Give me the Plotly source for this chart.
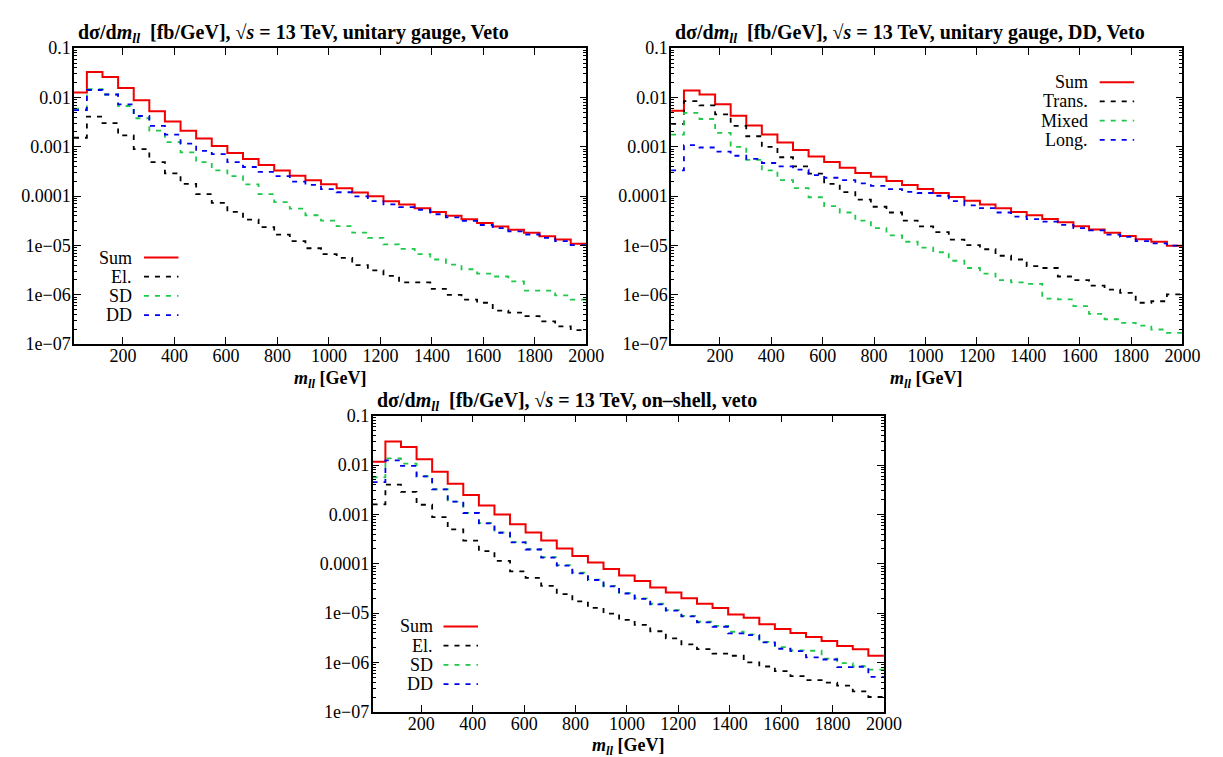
import plotly.graph_objects as go

W, H = 1223, 757
FONT = "Liberation Serif"

# bin edges of the m_ll histograms [GeV]
EDGES = [10, 60, 120.6, 181.3, 241.9, 302.5, 363.1, 423.8, 484.4, 545, 605.6,
         666.3, 726.9, 787.5, 848.1, 908.8, 969.4, 1030, 1090.6, 1151.3, 1211.9,
         1272.5, 1333.1, 1393.8, 1454.4, 1515, 1575.6, 1636.3, 1696.9, 1757.5,
         1818.1, 1878.8, 1939.4, 2000]

# top left: unitary gauge, Veto
TL_SUM = [0.0127, 0.033, 0.026, 0.0155, 0.00885, 0.00528, 0.00325, 0.00213, 0.00148,
          0.00104, 7.5e-4, 5.7e-4, 4.3e-4, 3.3e-4, 2.6e-4, 2.1e-4, 1.74e-4, 1.45e-4,
          1.19e-4, 9.95e-5, 7.9e-5, 6.8e-5, 5.7e-5, 4.8e-5, 4.0e-5, 3.4e-5, 2.86e-5,
          2.43e-5, 2.08e-5, 1.82e-5, 1.54e-5, 1.32e-5, 1.09e-5]
TL_EL = [0.00153, 0.00408, 0.00302, 0.0017, 8.97e-4, 4.9e-4, 2.9e-4, 1.77e-4, 1.1e-4,
         7.3e-5, 4.8e-5, 3.34e-5, 2.36e-5, 1.66e-5, 1.23e-5, 8.8e-6, 6.7e-6, 5.6e-6,
         4.0e-6, 3.13e-6, 2.42e-6, 1.78e-6, 1.78e-6, 1.32e-6, 1.0e-6, 8.0e-7, 6.9e-7,
         4.8e-7, 4.35e-7, 3.7e-7, 2.9e-7, 2.3e-7, 1.92e-7]
TL_SD = [0.00597, 0.0148, 0.0115, 0.00673, 0.0038, 0.00213, 0.00125, 7.7e-4, 4.9e-4,
         3.34e-4, 2.54e-4, 1.74e-4, 1.1e-4, 7.6e-5, 5.6e-5, 4.1e-5, 3.19e-5, 2.46e-5,
         1.82e-5, 1.43e-5, 1.05e-5, 8.5e-6, 6.7e-6, 5.2e-6, 4.1e-6, 3.3e-6, 2.7e-6,
         2.35e-6, 1.87e-6, 1.22e-6, 1.22e-6, 9.7e-7, 8.0e-7]
TL_DD = [0.00553, 0.0142, 0.0115, 0.00728, 0.00422, 0.00267, 0.00177, 0.00116, 8.3e-4,
         7.1e-4, 4.9e-4, 3.9e-4, 3.1e-4, 2.54e-4, 1.97e-4, 1.69e-4, 1.39e-4, 1.2e-4,
         9.9e-5, 7.9e-5, 6.8e-5, 6.0e-5, 5.3e-5, 4.3e-5, 3.7e-5, 3.15e-5, 2.6e-5,
         2.25e-5, 1.94e-5, 1.67e-5, 1.43e-5, 1.23e-5, 1.02e-5]

# top right: unitary gauge, DD, Veto
TR_SUM = [0.00536, 0.0139, 0.0115, 0.00728, 0.00427, 0.00271, 0.00177, 0.00122, 8.6e-4,
          6.4e-4, 4.9e-4, 3.78e-4, 2.96e-4, 2.47e-4, 2.02e-4, 1.69e-4, 1.39e-4, 1.16e-4,
          9.6e-5, 8.1e-5, 6.8e-5, 5.7e-5, 4.8e-5, 4.1e-5, 3.43e-5, 2.95e-5, 2.46e-5,
          2.12e-5, 1.82e-5, 1.56e-5, 1.34e-5, 1.19e-5, 9.9e-6]
TR_TRANS = [0.00292, 0.00845, 0.00695, 0.00455, 0.00267, 0.00164, 9.96e-4, 6.15e-4, 4.0e-4,
            2.87e-4, 1.77e-4, 1.21e-4, 8.5e-5, 6.1e-5, 4.66e-5, 3.19e-5, 2.43e-5, 1.87e-5,
            1.32e-5, 1.02e-5, 8.4e-6, 6.2e-6, 5.2e-6, 3.8e-6, 3.5e-6, 2.35e-6, 1.99e-6,
            1.53e-6, 1.28e-6, 1.1e-6, 6.9e-7, 7.4e-7, 1.02e-6]
TR_MIXED = [0.00177, 0.0049, 0.00367, 0.00192, 9.96e-4, 5.43e-4, 3.34e-4, 2.12e-4, 1.45e-4,
            9.5e-5, 6.3e-5, 4.66e-5, 3.19e-5, 2.25e-5, 1.61e-5, 1.19e-5, 9.06e-6, 7.3e-6,
            4.9e-6, 3.5e-6, 2.7e-6, 1.99e-6, 1.78e-6, 1.66e-6, 8.4e-7, 8.1e-7, 5.9e-7,
            4.1e-7, 3.2e-7, 2.7e-7, 2.37e-7, 1.98e-7, 1.7e-7]
TR_LONG = [3.34e-4, 0.00108, 9.7e-4, 8.0e-4, 6.6e-4, 5.7e-4, 4.7e-4, 4.0e-4, 3.45e-4,
           2.66e-4, 2.36e-4, 2.12e-4, 1.82e-4, 1.62e-4, 1.39e-4, 1.22e-4, 1.16e-4, 1.02e-4,
           7.9e-5, 6.5e-5, 5.7e-5, 4.66e-5, 3.83e-5, 3.43e-5, 3.05e-5, 2.61e-5, 2.25e-5,
           2.02e-5, 1.66e-5, 1.49e-5, 1.23e-5, 1.1e-5, 9.9e-6]

# bottom: on-shell, veto
B_SUM = [0.0117, 0.030, 0.0232, 0.0131, 0.00734, 0.0042, 0.00247, 0.00152, 9.96e-4,
         6.3e-4, 4.3e-4, 2.96e-4, 2.03e-4, 1.43e-4, 1.06e-4, 7.8e-5, 5.8e-5, 4.5e-5,
         3.3e-5, 2.63e-5, 2.0e-5, 1.55e-5, 1.27e-5, 9.4e-6, 8.1e-6, 5.96e-6, 4.75e-6,
         3.96e-6, 3.3e-6, 2.72e-6, 2.16e-6, 1.86e-6, 1.37e-6]
B_EL = [0.0016, 0.004, 0.00287, 0.00157, 8.8e-4, 4.97e-4, 2.96e-4, 1.8e-4, 1.15e-4,
        7.05e-5, 5.2e-5, 3.56e-5, 2.44e-5, 1.73e-5, 1.28e-5, 9.8e-6, 7.3e-6, 5.8e-6,
        4.3e-6, 3.07e-6, 2.34e-6, 1.86e-6, 1.52e-6, 1.37e-6, 1.01e-6, 8.3e-7, 6.7e-7,
        5.3e-7, 4.4e-7, 3.9e-7, 3.4e-7, 2.6e-7, 2.0e-7]
B_SD = [0.00566, 0.0137, 0.0107, 0.00593, 0.00324, 0.00182, 0.00108, 6.7e-4, 4.3e-4,
        2.75e-4, 1.97e-4, 1.36e-4, 9.4e-5, 6.6e-5, 4.8e-5, 3.56e-5, 2.55e-5, 2.0e-5,
        1.55e-5, 1.15e-5, 8.8e-6, 6.7e-6, 5.5e-6, 4.2e-6, 3.7e-6, 2.63e-6, 2.05e-6,
        1.75e-6, 1.73e-6, 1.2e-6, 9.7e-7, 8.4e-7, 7.2e-7]
B_DD = [0.00452, 0.0125, 0.0096, 0.0059, 0.00322, 0.00181, 0.00107, 6.6e-4, 4.25e-4,
        2.72e-4, 1.95e-4, 1.33e-4, 9.2e-5, 6.4e-5, 4.7e-5, 3.5e-5, 2.5e-5, 1.95e-5,
        1.5e-5, 1.12e-5, 8.6e-6, 6.5e-6, 5.3e-6, 3.9e-6, 3.6e-6, 2.55e-6, 1.9e-6,
        1.7e-6, 1.27e-6, 1.15e-6, 8.1e-7, 8.2e-7, 5.1e-7]

XTICKS = [200, 400, 600, 800, 1000, 1200, 1400, 1600, 1800, 2000]
YTICKS = [1e-7, 1e-6, 1e-5, 1e-4, 1e-3, 1e-2, 1e-1]
YLABELS = ["1e\u221207", "1e\u221206", "1e\u221205", "0.0001", "0.001", "0.01", "0.1"]
YMINOR = [m * 10.0 ** e for e in range(-7, -1) for m in range(2, 10)]

RED, BLACK, GREEN, BLUE = "#f00000", "#000000", "#1ec84a", "#0000f0"
DASH = "5px,6px"

TITLE_TL = "<b>d\u03c3/d<i>m<sub>ll</sub></i>  [fb/GeV], \u221a<i>s</i> = 13 TeV, unitary gauge, Veto</b>"
TITLE_TR = "<b>d\u03c3/d<i>m<sub>ll</sub></i>  [fb/GeV], \u221a<i>s</i> = 13 TeV, unitary gauge, DD, Veto</b>"
TITLE_B = "<b>d\u03c3/d<i>m<sub>ll</sub></i>  [fb/GeV], \u221a<i>s</i> = 13 TeV, on\u2013shell, veto</b>"
XTITLE = "<b><i>m<sub>ll</sub></i> [GeV]</b>"

# panel boxes in pixels: left, right, top, bottom
PANELS = [
    dict(box=(67, 587, 31, 335), title=TITLE_TL,
         series=[("Sum", TL_SUM, RED), ("El.", TL_EL, BLACK), ("SD", TL_SD, GREEN), ("DD", TL_DD, BLUE)],
         legend=(128, 138, 173, 246)),
    dict(box=(673, 1192, 31, 335), title=TITLE_TR,
         series=[("Sum", TR_SUM, RED), ("Trans.", TR_TRANS, BLACK), ("Mixed", TR_MIXED, GREEN),
                 ("Long.", TR_LONG, BLUE)],
         legend=(1098, 1108, 1143, 66)),
    dict(box=(370, 889, 408.5, 712.7), title=TITLE_B,
         series=[("Sum", B_SUM, RED), ("El.", B_EL, BLACK), ("SD", B_SD, GREEN), ("DD", B_DD, BLUE)],
         legend=(433, 442, 477, 625)),
]

fig = go.Figure()
annotations, shapes = [], []
tickfont = dict(family=FONT, size=18, color="black")

for i, p in enumerate(PANELS, start=1):
    l, r, t, b = p["box"]
    xa, ya = f"x{i}" if i > 1 else "x", f"y{i}" if i > 1 else "y"
    for k, (name, vals, col) in enumerate(p["series"]):
        fig.add_trace(go.Scatter(
            x=EDGES, y=vals + [vals[-1]], mode="lines", name=name,
            line=dict(color=col, width=2 if k == 0 else 1.8, shape="hv",
                      dash="solid" if k == 0 else DASH),
            xaxis=xa, yaxis=ya, showlegend=False,
        ))
    axis_common = dict(ticks="inside", ticklen=7, tickwidth=1, tickcolor="black",
                       mirror="allticks", showline=True, linecolor="black", linewidth=1.5,
                       showgrid=False, zeroline=False, tickfont=tickfont)
    fig.update_layout(**{
        f"xaxis{i if i > 1 else ''}": dict(
            domain=[l / W, r / W], range=[10, 2000], tickmode="array", tickvals=XTICKS,
            anchor=ya, ticklabelstandoff=-5, **axis_common),
        f"yaxis{i if i > 1 else ''}": dict(
            domain=[1 - b / H, 1 - t / H], type="log", range=[-7, -1], tickmode="array",
            tickvals=YTICKS, ticktext=YLABELS, anchor=xa, ticklabelstandoff=-2,
            minor=dict(tickmode="array", tickvals=YMINOR, ticks="inside", ticklen=3.5,
                       tickcolor="black"),
            **axis_common),
    })
    annotations.append(dict(text=p["title"], xref="paper", yref="paper", x=(l + 2) / W,
                            y=1 - (t - 15) / H, xanchor="left", yanchor="middle",
                            showarrow=False, font=dict(family=FONT, size=20, color="black")))
    annotations.append(dict(text=XTITLE, xref="paper", yref="paper", x=(l + r) / 2 / W,
                            y=1 - (b + 36) / H, xanchor="center", yanchor="middle",
                            showarrow=False, font=dict(family=FONT, size=18, color="black")))
    tx, x0, x1, y0 = p["legend"]
    for k, (name, vals, col) in enumerate(p["series"]):
        yy = y0 + k * 19.7
        annotations.append(dict(text=name, xref="paper", yref="paper", x=tx / W, y=1 - yy / H,
                                xanchor="right", yanchor="middle", showarrow=False,
                                font=dict(family=FONT, size=18, color="black")))
        shapes.append(dict(type="line", xref="paper", yref="paper", x0=x0 / W, x1=x1 / W,
                           y0=1 - yy / H, y1=1 - yy / H,
                           line=dict(color=col, width=2 if k == 0 else 1.8,
                                     dash="solid" if k == 0 else DASH)))

fig.update_layout(width=W, height=H, margin=dict(l=0, r=0, t=0, b=0),
                  plot_bgcolor="white", paper_bgcolor="white",
                  annotations=annotations, shapes=shapes, showlegend=False)

fig.write_html("out.html")
